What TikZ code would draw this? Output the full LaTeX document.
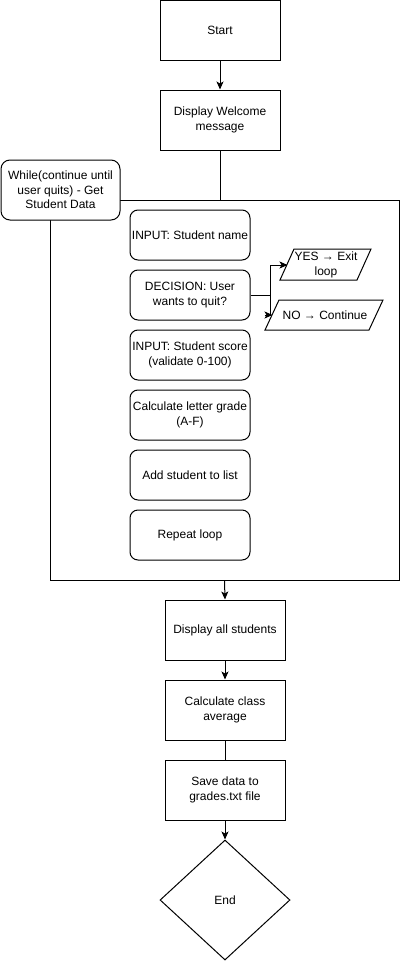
\documentclass[tikz,border=0pt]{standalone}
\usepackage{fontspec}
\setmainfont{Liberation Sans}
\usetikzlibrary{shapes.geometric,arrows.meta}
\begin{document}
\begin{tikzpicture}[x=1pt,y=-1pt,
  every node/.style={font=\fontsize{12}{14.5}\selectfont, align=center, inner sep=0pt},
  box/.style={draw, line width=1pt, fill=white, minimum width=120pt, minimum height=60pt},
  rbox/.style={draw, line width=1pt, fill=white, rounded corners=8pt, minimum width=120pt, minimum height=50pt},
  paraline/.style={line width=1pt, line join=miter},
  conn/.style={line width=1pt},
  arr/.style={line width=1pt, -{Stealth[length=8pt,width=7pt,inset=2pt]}}
]
\useasboundingbox (0,0) rectangle (401,961);
% top
\node[box] (start) at (220,30.5) {Start};
\node[box] (welcome) at (220,120) {Display Welcome\\message};
% loop container
\node[draw, line width=1pt, minimum width=349pt, minimum height=380pt] (loop) at (224.5,390) {};
\node[rbox, minimum height=60pt, minimum width=119pt, rounded corners=9pt] (while) at (60.5,190) {While(continue until\\user quits) - Get\\Student Data};
% inner steps
\node[rbox] (name) at (190,235) {INPUT: Student name};
\node[rbox] (dec) at (190,295) {DECISION: User\\wants to quit?};
\node[rbox] (score) at (190,355) {INPUT: Student score\\(validate 0-100)};
\node[rbox] (grade) at (190,415) {Calculate letter grade\\(A-F)};
\node[rbox] (add) at (190,475) {Add student to list};
\node[rbox] (rep) at (190,535) {Repeat loop};
% outcomes (parallelograms)
\draw[paraline] (294,249) -- (371,249) -- (357,280) -- (280,280) -- cycle;
\node (yes) at (326,265) {YES → Exit\\loop};
\coordinate (yesin) at (287.5,265);
\draw[paraline] (279,300) -- (383,300) -- (369,330) -- (265,330) -- cycle;
\node (no) at (325,315.5) {NO → Continue};
\coordinate (noin) at (272.5,315);
% bottom
\node[box] (disp) at (225,630) {Display all students};
\node[box] (avg) at (225,710) {Calculate class\\average};
\node[box] (save) at (225,790) {Save data to\\grades.txt file};
\node[draw, line width=1pt, diamond, minimum width=130pt, minimum height=120pt] (end) at (225,900) {End};
% connectors
\draw[arr] (start) -- (welcome);
\draw[conn] (welcome.south) -- (welcome.south |- loop.north);
\coordinate (split) at (270,295);
\draw[conn] (dec.east) -- (split);
\draw[arr] (split) |- (yesin);
\draw[conn] (split) -- (split |- noin);
\draw[arr] ([xshift=-8pt]noin) -- (noin);
\draw[arr] (loop.south) -- (disp.north);
\draw[arr] (disp) -- (avg);
\draw[conn] (avg) -- (save);
\draw[arr] (save.south) -- (end.north);
\end{tikzpicture}
\end{document}
